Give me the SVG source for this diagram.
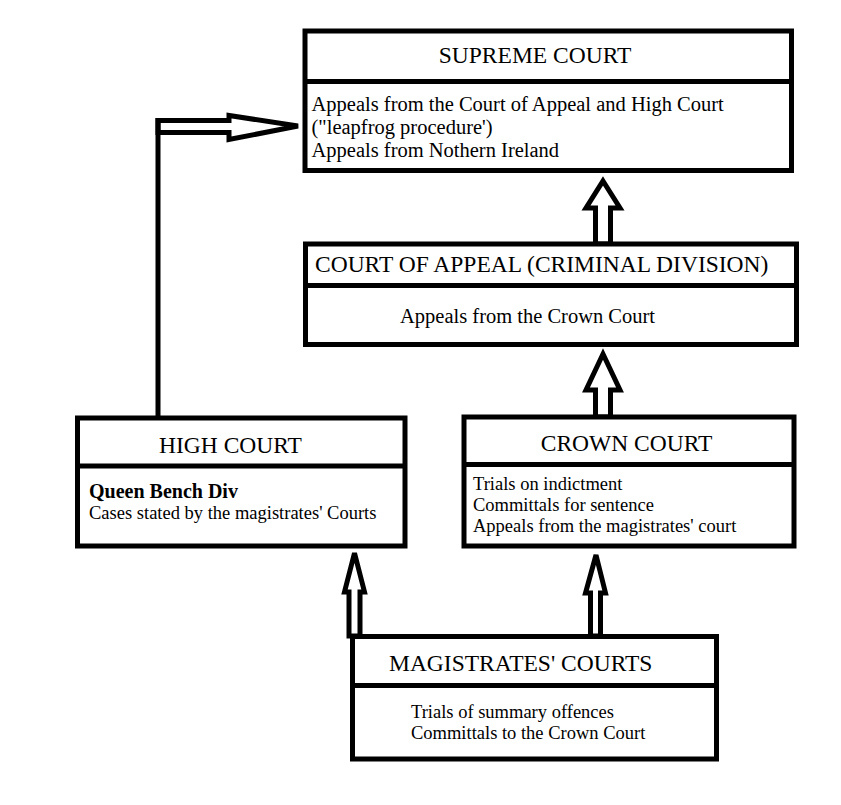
<svg xmlns="http://www.w3.org/2000/svg" width="841" height="805" viewBox="0 0 841 805">
<style>
.box{fill:#fff;stroke:#000;stroke-width:5}
.div{stroke:#000;stroke-width:5}
.t{font-family:"Liberation Serif","Times New Roman",serif;fill:#000}
.title{font-size:23.5px}
.b1{font-size:20.5px}
.b2{font-size:18.5px}
.bold{font-size:20px;font-weight:bold}
.arr{fill:#fff;stroke:#000;stroke-width:5;stroke-linejoin:miter;stroke-miterlimit:3}
.ln{fill:none;stroke:#000;stroke-width:5}
</style>
<rect width="841" height="805" fill="#fff"/>
<g id="connectors">
<polygon class="arr" points="603,181 620,208 610.5,208 610.5,244 595.5,244 595.5,208 586,208"/>
<polygon class="arr" points="603,354 620,390 610.5,390 610.5,417 595.5,417 595.5,390 586,390"/>
<polygon class="arr" points="354.5,553 364.5,592 360,592 360,636 349,636 349,592 344.5,592"/>
<polygon class="arr" points="596,555 605.5,593 600.5,593 600.5,636 590.5,636 590.5,593 585.5,593"/>
<polygon class="arr" points="298,126 229,139.5 229,132.5 158,132.5 158,120.5 229,120.5 229,115.5"/>
<line class="ln" x1="158" y1="418" x2="158" y2="118"/>
</g>
<g id="supreme">
<rect class="box" x="305" y="31" width="486.5" height="139.5"/>
<line class="div" x1="305" y1="81.5" x2="791.5" y2="81.5"/>
<text class="t title" x="535" y="62.5" text-anchor="middle">SUPREME COURT</text>
<text class="t b1" x="311.5" y="110.5">Appeals from the Court of Appeal and High Court</text>
<text class="t b1" x="311.5" y="133.5">("leapfrog procedure')</text>
<text class="t b1" x="311.5" y="156.5">Appeals from Nothern Ireland</text>
</g>
<g id="appeal">
<rect class="box" x="305.5" y="244" width="491" height="100.5"/>
<line class="div" x1="305.5" y1="285.5" x2="796.5" y2="285.5"/>
<text class="t title" x="315" y="271.5">COURT OF APPEAL (CRIMINAL DIVISION)</text>
<text class="t b1" x="400" y="322.5">Appeals from the Crown Court</text>
</g>
<g id="high">
<rect class="box" x="77.5" y="418" width="327.5" height="128"/>
<line class="div" x1="77.5" y1="466" x2="405" y2="466"/>
<text class="t title" x="230.5" y="452.5" text-anchor="middle">HIGH COURT</text>
<text class="t bold" x="89" y="498">Queen Bench Div</text>
<text class="t b2" x="89" y="519">Cases stated by the magistrates' Courts</text>
</g>
<g id="crown">
<rect class="box" x="464" y="417" width="330" height="129"/>
<line class="div" x1="464" y1="464.5" x2="794" y2="464.5"/>
<text class="t title" x="626.5" y="450.5" text-anchor="middle">CROWN COURT</text>
<text class="t b2" x="473" y="490">Trials on indictment</text>
<text class="t b2" x="473" y="511">Committals for sentence</text>
<text class="t b2" x="473" y="532">Appeals from the magistrates' court</text>
</g>
<g id="magistrates">
<rect class="box" x="352.5" y="636.5" width="364" height="122.5"/>
<line class="div" x1="352.5" y1="685.5" x2="716.5" y2="685.5"/>
<text class="t title" x="389" y="671">MAGISTRATES' COURTS</text>
<text class="t b2" x="411" y="717.5">Trials of summary offences</text>
<text class="t b2" x="411" y="739">Committals to the Crown Court</text>
</g>
</svg>
